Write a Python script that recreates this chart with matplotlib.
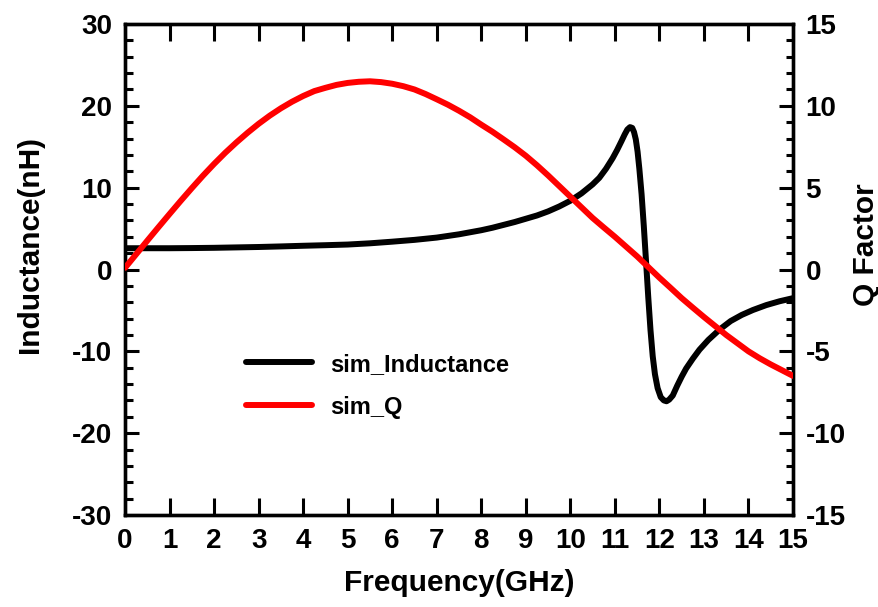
import matplotlib
matplotlib.use("Agg")
import matplotlib.pyplot as plt
from matplotlib.ticker import MultipleLocator

plt.rcParams["font.family"] = ["Liberation Sans", "DejaVu Sans"]
plt.rcParams["font.weight"] = "bold"
plt.rcParams["axes.unicode_minus"] = False

# Simulated inductance (nH) versus frequency (GHz)
freq_L = [0.0, 0.5, 1.0, 1.5, 2.0, 2.5, 3.0, 3.5, 4.0, 4.5, 5.0, 5.5, 6.0, 6.5,
          7.0, 7.5, 8.0, 8.25, 8.5, 8.75, 9.0, 9.25, 9.5, 9.75, 10.0, 10.25,
          10.5, 10.65, 10.8, 10.95, 11.05, 11.15, 11.22, 11.28, 11.34, 11.39,
          11.43, 11.47, 11.51, 11.55, 11.6, 11.65, 11.7, 11.75, 11.8, 11.85,
          11.9, 11.96, 12.03, 12.1, 12.16, 12.22, 12.3, 12.4, 12.5, 12.6,
          12.75, 12.9, 13.1, 13.36, 13.6, 13.85, 14.1, 14.4, 14.7, 15.0]
sim_inductance = [2.6, 2.6, 2.6, 2.62, 2.65, 2.7, 2.75, 2.82, 2.9, 2.97, 3.05, 3.2,
                  3.4, 3.62, 3.9, 4.3, 4.8, 5.1, 5.45, 5.8, 6.2, 6.6, 7.1, 7.7,
                  8.4, 9.3, 10.4, 11.2, 12.3, 13.6, 14.6, 15.7, 16.5, 17.1, 17.4,
                  17.3, 16.8, 15.9, 14.4, 12.3, 9.2, 5.3, 1.0, -3.4, -7.4, -10.6,
                  -12.8, -14.5, -15.6, -16.0, -16.1, -15.9, -15.4, -14.2, -13.1,
                  -12.1, -10.9, -9.8, -8.6, -7.3, -6.3, -5.55, -4.95, -4.35, -3.88,
                  -3.5]

# Simulated quality factor versus frequency (GHz)
freq_Q = [0.0, 0.25, 0.5, 0.75, 1.0, 1.25, 1.5, 1.75, 2.0, 2.25, 2.5, 2.75, 3.0,
          3.25, 3.5, 3.75, 4.0, 4.25, 4.5, 4.75, 5.0, 5.25, 5.5, 5.75, 6.0,
          6.25, 6.5, 6.75, 7.0, 7.25, 7.5, 7.75, 8.0, 8.25, 8.5, 8.75, 9.0,
          9.25, 9.5, 9.75, 10.0, 10.25, 10.5, 10.75, 11.0, 11.25, 11.5, 11.75,
          12.0, 12.25, 12.5, 12.75, 13.0, 13.25, 13.5, 13.75, 14.0, 14.25,
          14.5, 14.75, 15.0]
sim_q = [0.1, 0.93, 1.76, 2.58, 3.39, 4.19, 4.97, 5.73, 6.45, 7.13, 7.76, 8.35,
         8.9, 9.4, 9.85, 10.25, 10.6, 10.9, 11.1, 11.28, 11.4, 11.47, 11.5,
         11.45, 11.35, 11.2, 11.0, 10.72, 10.4, 10.07, 9.7, 9.3, 8.85, 8.42,
         7.95, 7.47, 6.95, 6.37, 5.75, 5.1, 4.45, 3.8, 3.15, 2.57, 2.0, 1.4,
         0.8, 0.15, -0.5, -1.12, -1.75, -2.33, -2.9, -3.45, -4.0, -4.5, -5.0,
         -5.42, -5.8, -6.15, -6.5]

x_ticks = list(range(0, 16))
left_ticks = [-30, -20, -10, 0, 10, 20, 30]
right_ticks = [-15, -10, -5, 0, 5, 10, 15]

fig = plt.figure(figsize=(8.79, 6.07), dpi=100)
ax = fig.add_axes([125 / 879, 1 - 515 / 607, 668 / 879, 491 / 607])
ax2 = ax.twinx()

line_l, = ax.plot(freq_L, sim_inductance, color="black", lw=4.3,
                  solid_capstyle="round", solid_joinstyle="round",
                  label="sim_Inductance", zorder=3)
line_q, = ax2.plot(freq_Q, sim_q, color="#ff0000", lw=4.3,
                   solid_capstyle="round", solid_joinstyle="round",
                   label="sim_Q", zorder=3)

ax.set_xlim(0, 15)
ax.set_ylim(-30, 30)
ax2.set_ylim(-15, 15)

ax.set_xticks(x_ticks)
ax.set_yticks(left_ticks)
ax.yaxis.set_minor_locator(MultipleLocator(2))
ax2.set_yticks(right_ticks)
ax2.yaxis.set_minor_locator(MultipleLocator(1))

tick_font = 20
ax.tick_params(axis="x", which="major", direction="in", length=12, width=2.2,
               top=True, labelsize=tick_font, pad=9)
ax.tick_params(axis="y", which="major", direction="in", length=10, width=2.2,
               right=False, labelsize=tick_font, pad=9)
ax.tick_params(axis="y", which="minor", direction="in", length=6, width=2.2, right=False)
ax2.tick_params(axis="y", which="major", direction="in", length=10, width=2.2,
                labelsize=tick_font, pad=9)
ax2.tick_params(axis="y", which="minor", direction="in", length=5, width=2.2)

for a in (ax, ax2):
    for sp in a.spines.values():
        sp.set_linewidth(2.4)
    for lab in a.get_xticklabels() + a.get_yticklabels():
        lab.set_fontweight("bold")

ax.set_xlabel("Frequency(GHz)", fontsize=21.5, fontweight="bold")
ax.set_ylabel("Inductance(nH)", fontsize=21.5, fontweight="bold")
ax2.set_ylabel("Q Factor", fontsize=21.5, fontweight="bold")
ax.xaxis.set_label_coords(0.5, -0.11)
ax.yaxis.set_label_coords(-0.122, 0.55)
ax2.yaxis.set_label_coords(1.088, 0.55)

leg = ax.legend(handles=[line_l, line_q], loc="upper left",
                bbox_to_anchor=(0.167, 0.35), frameon=False,
                prop={"size": 17, "weight": "bold"}, handlelength=2.8,
                handletextpad=0.75, labelspacing=0.85, borderaxespad=0)

fig.savefig("out.png", dpi=100)
